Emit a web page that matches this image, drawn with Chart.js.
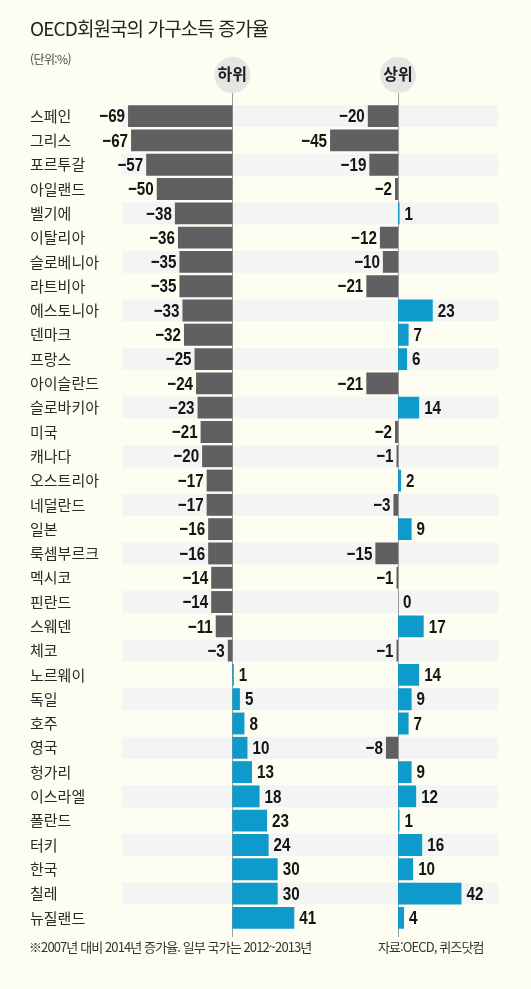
<!DOCTYPE html>
<html lang="ko">
<head>
<meta charset="utf-8">
<script src="https://cdn.jsdelivr.net/npm/chart.js@4.4.0/dist/chart.umd.min.js"></script>
<style>
  body { margin: 0; background: #fefdf2; }
  #wrap { position: relative; width: 531px; height: 989px; font-family: "Noto Sans CJK KR", sans-serif; color: #222; overflow: hidden; }
  canvas { position: absolute; left: 0; top: 0; }
  .title { position: absolute; left: 30px; top: 18px; font-size: 19px; line-height: 20px; letter-spacing: -0.9px; }
  .unit { position: absolute; left: 30px; top: 52px; font-size: 12px; line-height: 14px; letter-spacing: -0.6px; color: #444; }
  .note { position: absolute; top: 939px; font-size: 13px; line-height: 16px; letter-spacing: -0.9px; color: #333; }
</style>
</head>
<body>
<div id="wrap">
  <canvas id="lowerChart" width="531" height="989"></canvas>
  <canvas id="upperChart" width="531" height="989"></canvas>
  <div class="title">OECD회원국의 가구소득 증가율</div>
  <div class="unit">(단위:%)</div>
  <div class="note" style="left:29px">※2007년 대비 2014년 증가율. 일부 국가는 2012~2013년</div>
  <div class="note" style="left:378px">자료:OECD, 퀴즈닷컴</div>
</div>
<script>
const countries = ["스페인", "그리스", "포르투갈", "아일랜드", "벨기에", "이탈리아", "슬로베니아", "라트비아",
  "에스토니아", "덴마크", "프랑스", "아이슬란드", "슬로바키아", "미국", "캐나다", "오스트리아", "네덜란드",
  "일본", "룩셈부르크", "멕시코", "핀란드", "스웨덴", "체코", "노르웨이", "독일", "호주", "영국", "헝가리",
  "이스라엘", "폴란드", "터키", "한국", "칠레", "뉴질랜드"];
const lowerIncome = [-69, -67, -57, -50, -38, -36, -35, -35, -33, -32, -25, -24, -23, -21, -20, -17, -17,
  -16, -16, -14, -14, -11, -3, 1, 5, 8, 10, 13, 18, 23, 24, 30, 30, 41];
const upperIncome = [-20, -45, -19, -2, 1, -12, -10, -21, 23, 7, 6, -21, 14, -2, -1, 2, -3,
  9, -15, -1, 0, 17, -1, 14, 9, 7, -8, 9, 12, 1, 16, 10, 42, 4];
const panelTitles = ["하위", "상위"];

const NEG_COLOR = "#615f61";
const POS_COLOR = "#0e9bcc";
const STRIPE_RIGHT = 498;
const BAR_PCT = 0.9;

function barColors(values) {
  return values.map(v => v < 0 ? NEG_COLOR : POS_COLOR);
}

// alternating light bands behind the rows, across both panels
const stripePlugin = {
  id: "stripes",
  beforeDraw(chart) {
    const ctx = chart.ctx;
    const y = chart.scales.y;
    const h = y.height / countries.length * BAR_PCT;
    ctx.save();
    ctx.fillStyle = "#f3f5f5";
    countries.forEach((c, i) => {
      if (i % 2) return;
      const cy = y.getPixelForValue(i);
      ctx.fillRect(chart.chartArea.left, cy - h / 2, STRIPE_RIGHT - chart.chartArea.left, h);
    });
    ctx.restore();
  }
};

// zero line with the round panel header on top
const zeroAxisPlugin = {
  id: "zeroAxis",
  beforeDatasetsDraw(chart) {
    const ctx = chart.ctx;
    const x = Math.round(chart.scales.x.getPixelForValue(0)) + 0.5;
    ctx.save();
    ctx.strokeStyle = "#9d9d9d";
    ctx.lineWidth = 1;
    ctx.beginPath();
    ctx.moveTo(x, 92);
    ctx.lineTo(x, 937);
    ctx.stroke();
    ctx.restore();
  },
  afterDraw(chart, args, opts) {
    const ctx = chart.ctx;
    const x = chart.scales.x.getPixelForValue(0);
    ctx.save();
    ctx.fillStyle = "#e5e5e3";
    ctx.beginPath();
    ctx.arc(x, 75, 18, 0, Math.PI * 2);
    ctx.fill();
    ctx.fillStyle = "#1e1e1e";
    ctx.font = "bold 16px 'Noto Sans CJK KR', sans-serif";
    ctx.textAlign = "center";
    ctx.textBaseline = "middle";
    ctx.fillText(opts.title, x, 74);
    ctx.restore();
  }
};

// bold numbers, squeezed sideways to look like the narrow face of the original
const valuePlugin = {
  id: "values",
  afterDatasetsDraw(chart) {
    const ctx = chart.ctx;
    const data = chart.data.datasets[0].data;
    const bars = chart.getDatasetMeta(0).data;
    bars.forEach((bar, i) => {
      const v = data[i];
      ctx.save();
      ctx.font = "bold 19px 'Liberation Sans', Arial, sans-serif";
      ctx.fillStyle = "#141414";
      ctx.textBaseline = "middle";
      if (v < 0) {
        ctx.translate(bar.x - 3, bar.y + 1);
        ctx.scale(0.8, 1);
        ctx.textAlign = "right";
        ctx.fillText("\u2212" + Math.abs(v), 0, 0);
      } else {
        ctx.translate(bar.x + 5, bar.y + 1);
        ctx.scale(0.8, 1);
        ctx.textAlign = "left";
        ctx.fillText(String(v), 0, 0);
      }
      ctx.restore();
    });
  }
};

function makeChart(id, values, title, xMin, xMax, padLeft, padRight, showLabels, extraPlugins) {
  const yScale = {
    display: showLabels,
    grid: { display: false },
    border: { display: false },
    ticks: {
      crossAlign: "far",
      padding: 0,
      color: "#2a2a2a",
      font: { family: "'Noto Sans CJK KR', sans-serif", size: 15 }
    }
  };
  if (showLabels) yScale.afterFit = scale => { scale.width = 92; };

  return new Chart(document.getElementById(id), {
    type: "bar",
    data: {
      labels: countries,
      datasets: [{
        data: values,
        backgroundColor: barColors(values),
        barPercentage: BAR_PCT,
        categoryPercentage: 1
      }]
    },
    options: {
      indexAxis: "y",
      responsive: false,
      animation: false,
      layout: { padding: { left: padLeft, right: padRight, top: 104, bottom: 59 } },
      scales: {
        x: { min: xMin, max: xMax, display: false },
        y: yScale
      },
      plugins: {
        legend: { display: false },
        tooltip: { enabled: false },
        zeroAxis: { title }
      }
    },
    plugins: extraPlugins.concat([zeroAxisPlugin, valuePlugin])
  });
}

makeChart("lowerChart", lowerIncome, panelTitles[0], -73, 58, 30, 211, true, [stripePlugin]);
makeChart("upperChart", upperIncome, panelTitles[1], -52, 66, 319.5, 33.3, false, []);
</script>
</body>
</html>
